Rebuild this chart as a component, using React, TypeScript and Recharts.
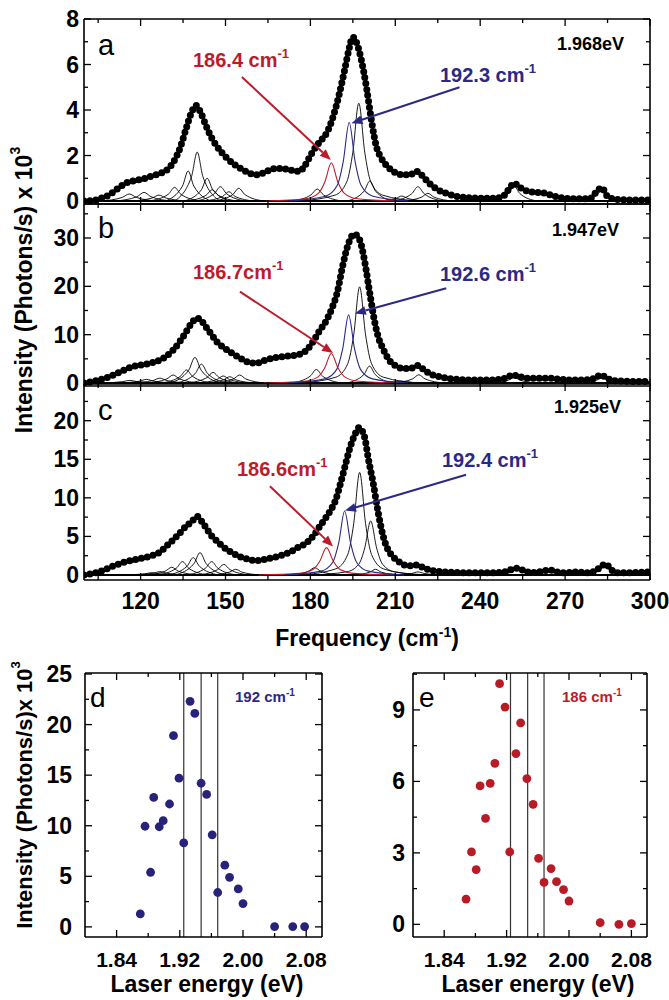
import React from "react";
import { LineChart, Line, XAxis, YAxis, ReferenceLine, ScatterChart, Scatter } from "recharts";

type Pt = [number, number];

const FONT = "'Liberation Sans', Arial, Helvetica, sans-serif";
const RED = "#bd1b2b";
const BLUE = "#2b2985";

// frequency axis (top three panels)
const freqTicks = [105, 120, 135, 150, 165, 180, 195, 210, 225, 240, 255, 270, 285, 300];
const freqLabels = [120, 150, 180, 210, 240, 270, 300];

const aTicks = [0, 1, 2, 3, 4, 5, 6, 7, 8];
const aLabels = [0, 2, 4, 6, 8];
const bTicks = [0, 5, 10, 15, 20, 25, 30, 35];
const bLabels = [0, 10, 20, 30];
const cTicks = [0, 2.5, 5, 7.5, 10, 12.5, 15, 17.5, 20, 22.5];
const cLabels = [0, 5, 10, 15, 20];

// measured spectra [frequency, intensity]
const specA: Pt[] = [
  [100, 0], [103, 0.02], [106, 0.12], [109, 0.28], [112, 0.55], [115, 0.8], [118, 0.9], [121, 0.98],
  [124, 1.1], [127, 1.22], [130, 1.45], [132, 1.8], [134, 2.35], [136, 3.15], [138, 3.9], [139.5, 4.2],
  [141, 3.95], [143, 3.35], [145, 2.8], [147, 2.4], [150, 1.95], [153, 1.62], [156, 1.38], [159, 1.2],
  [161, 1.15], [164, 1.27], [167, 1.42], [170, 1.43], [173, 1.36], [176, 1.3], [178, 1.55], [180, 2.0],
  [182, 2.4], [184, 2.7], [186, 3.05], [188, 3.7], [190, 4.6], [192, 5.7], [193.5, 6.6], [195, 7.2],
  [196.5, 6.9], [198, 6.2], [199.8, 5.0], [201.5, 3.6], [203.3, 2.4], [205, 1.9], [207, 1.55], [210, 1.25],
  [213, 1.15], [215, 1.15], [217.5, 1.3], [220, 1.05], [222, 0.78], [225, 0.5], [228, 0.34], [232, 0.2],
  [236, 0.15], [240, 0.12], [245, 0.12], [248, 0.2], [250, 0.5], [252, 0.78], [254, 0.6], [257, 0.42],
  [260, 0.38], [263, 0.34], [266, 0.22], [270, 0.12], [275, 0.1], [279, 0.12], [281, 0.4], [283, 0.58],
  [285, 0.2], [288, 0.08], [292, 0.05], [296, 0.05], [300, 0.05],
];
const specB: Pt[] = [
  [100, 0], [103, 0.3], [106, 0.75], [109, 1.3], [112, 2.1], [115, 2.9], [118, 3.5], [121, 3.8],
  [124, 4.2], [127, 4.8], [129, 5.5], [131.5, 6.8], [134, 8.7], [136, 10.5], [138, 12.4], [140, 13.4],
  [141.5, 12.9], [143, 11.7], [145.6, 9.6], [147, 8.5], [149, 7.5], [152, 6.3], [155, 5.2], [158, 4.3],
  [161, 4.1], [163, 4.5], [165, 4.9], [168, 5.3], [171, 5.5], [174, 5.7], [177, 6.1], [179, 7.0],
  [181, 8.6], [183, 10.6], [185.5, 12.8], [187.5, 15.3], [189.5, 18.8], [191.5, 24.5], [193.3, 28.6],
  [195.5, 30.8], [197.4, 29.6], [199.2, 25.1], [200.9, 18.9], [202.7, 12.7], [204, 9.5], [205.5, 7.3],
  [208, 4.6], [210, 3.6], [213, 3.0], [216, 3.1], [218, 3.6], [220, 2.8], [222, 2.0], [225, 1.4],
  [228, 1.0], [232, 0.75], [236, 0.6], [240, 0.6], [245, 0.65], [249, 1.0], [251.5, 1.65], [254, 1.3],
  [257, 1.0], [261, 1.0], [264.5, 1.0], [268, 0.8], [272, 0.6], [276, 0.6], [280, 0.9], [282.7, 1.65],
  [285, 0.9], [288, 0.45], [292, 0.35], [296, 0.3], [300, 0.3],
];
const specC: Pt[] = [
  [100, 0], [103, 0.2], [106, 0.5], [108, 0.8], [110.5, 1.2], [113, 1.5], [115, 1.75], [118, 2.0],
  [120, 2.15], [122.5, 2.35], [125, 2.65], [127, 3.0], [129, 3.7], [131.5, 4.55], [134, 5.5], [136, 6.3],
  [138, 6.9], [140, 7.6], [141.5, 7.0], [143, 6.2], [145, 5.1], [147, 4.4], [149, 3.7], [152, 2.95],
  [155, 2.4], [158, 2.05], [161, 1.86], [163, 1.95], [166, 2.2], [169, 2.45], [171, 2.7], [173, 3.0],
  [175, 3.45], [177, 3.8], [179.8, 4.55], [181.5, 5.3], [183.3, 6.3], [185, 7.2], [187, 8.3], [189, 9.8],
  [190.5, 11.7], [192.1, 13.9], [193.9, 16.4], [195.7, 18.2], [197.2, 19.1], [199.2, 17.8], [200.4, 15.2],
  [202.1, 12.1], [203.9, 8.2], [205.6, 5.2], [207, 3.6], [208.6, 2.6], [211, 1.8], [213, 1.3], [215, 1.2],
  [217.4, 1.3], [220, 0.95], [222, 0.65], [226, 0.45], [230, 0.35], [234, 0.3], [240, 0.3], [245, 0.3],
  [249, 0.45], [251, 0.7], [253.3, 0.87], [255.5, 0.55], [258, 0.3], [261, 0.4], [264.5, 0.65], [267, 0.4],
  [270, 0.3], [274, 0.4], [278, 0.3], [281, 0.6], [283, 1.2], [284.5, 1.4], [286, 0.8], [288, 0.3],
  [292, 0.3], [296, 0.35], [300, 0.4],
];

// fitted components
const aBlack: Pt[][] = [
  [[106, 0], [113.5, 0.16], [116, 0.31], [118.5, 0.16], [126, 0]],
  [[111, 0], [118.7, 0.19], [121.2, 0.38], [123.7, 0.19], [131, 0]],
  [[116.5, 0], [124, 0.13], [126.5, 0.26], [129, 0.13], [136.5, 0]],
  [[123, 0], [129.8, 0.3], [132, 0.6], [134.2, 0.3], [141, 0]],
  [[128.8, 0], [134.8, 0.66], [136.8, 1.32], [138.8, 0.66], [144.8, 0]],
  [[132, 0], [138, 1.08], [140, 2.15], [142, 1.08], [148, 0]],
  [[135.5, 0], [141.5, 0.5], [143.5, 1.0], [145.5, 0.5], [151.5, 0]],
  [[136.5, 0], [143.1, 0.25], [145.3, 0.5], [147.5, 0.25], [154.1, 0]],
  [[139.4, 0], [146, 0.32], [148.2, 0.63], [150.4, 0.32], [157, 0]],
  [[142.4, 0], [149, 0.2], [151.2, 0.41], [153.4, 0.2], [160, 0]],
  [[145.9, 0], [152.5, 0.28], [154.7, 0.56], [156.9, 0.28], [163.5, 0]],
  [[173.6, 0], [180.2, 0.27], [182.4, 0.53], [184.6, 0.27], [191.2, 0]],
  [[176.1, 0], [188.7, 0.26], [192.9, 0.86], [195, 2.15], [197.1, 4.3], [199.2, 2.15], [201.3, 0.86], [205.5, 0.26], [218.1, 0]],
  [[193, 0], [199, 0.44], [201, 0.88], [203, 0.44], [209, 0]],
  [[203.5, 0], [210.1, 0.11], [212.3, 0.22], [214.5, 0.11], [221, 0]],
  [[209.2, 0], [215.8, 0.32], [218, 0.63], [220.2, 0.32], [226.8, 0]],
  [[212.7, 0], [219.3, 0.17], [221.5, 0.34], [223.7, 0.17], [230.3, 0]],
  [[244, 0], [250, 0.33], [252, 0.65], [254, 0.33], [260, 0]],
  [[275.8, 0], [281.2, 0.25], [283, 0.5], [284.8, 0.25], [290.2, 0]],
];
const aRed: Pt[] = [[164.4, 0], [178.2, 0.1], [182.8, 0.34], [185.1, 0.84], [187.4, 1.68], [189.7, 0.84], [192, 0.34], [196.6, 0.1], [210.4, 0]];
const aBlue: Pt[] = [[172.7, 0], [185.3, 0.21], [189.5, 0.69], [191.6, 1.73], [193.7, 3.45], [195.8, 1.73], [197.9, 0.69], [202.1, 0.21], [214.7, 0]];

const bBlack: Pt[][] = [
  [[106.2, 0], [113.7, 0.28], [116.2, 0.55], [118.7, 0.28], [126.2, 0]],
  [[112.1, 0], [119.6, 0.38], [122.1, 0.75], [124.6, 0.38], [132.1, 0]],
  [[116.8, 0], [124.3, 0.5], [126.8, 1.0], [129.3, 0.5], [136.8, 0]],
  [[122.3, 0], [129.2, 0.83], [131.5, 1.65], [133.8, 0.83], [140.7, 0]],
  [[127.4, 0], [134, 1.35], [136.2, 2.7], [138.4, 1.35], [145, 0]],
  [[130.4, 0], [137, 2.65], [139.2, 5.3], [141.4, 2.65], [148, 0]],
  [[132.7, 0], [139.3, 1.95], [141.5, 3.9], [143.7, 1.95], [150.3, 0]],
  [[136.8, 0], [143.4, 1.1], [145.6, 2.2], [147.8, 1.1], [154.4, 0]],
  [[140.4, 0], [147, 0.73], [149.2, 1.45], [151.4, 0.73], [158, 0]],
  [[142.7, 0], [149.3, 0.65], [151.5, 1.3], [153.7, 0.65], [160.3, 0]],
  [[146.2, 0], [152.8, 0.83], [155, 1.65], [157.2, 0.83], [163.8, 0]],
  [[173.3, 0], [179.9, 1.4], [182.1, 2.8], [184.3, 1.4], [190.9, 0]],
  [[176.4, 0], [189, 1.2], [193.2, 4], [195.3, 9.95], [197.4, 19.9], [199.5, 9.95], [201.6, 4], [205.8, 1.2], [218.4, 0]],
  [[192.9, 0], [198.9, 1.75], [200.9, 3.5], [202.9, 1.75], [208.9, 0]],
  [[203.2, 0], [209.8, 0.2], [212, 0.4], [214.2, 0.2], [220.8, 0]],
  [[209.5, 0], [216.1, 0.85], [218.3, 1.7], [220.5, 0.85], [227.1, 0]],
  [[244, 0], [250, 0.6], [252, 1.2], [254, 0.6], [260, 0]],
  [[275.8, 0], [281.2, 0.6], [283, 1.2], [284.8, 0.6], [290.2, 0]],
];
const bRed: Pt[] = [[163.4, 0], [177.8, 0.37], [182.6, 1.22], [185, 3.05], [187.4, 6.1], [189.8, 3.05], [192.2, 1.22], [197, 0.37], [211.4, 0]];
const bBlue: Pt[] = [[172.5, 0], [185.1, 0.85], [189.3, 2.82], [191.4, 7.05], [193.5, 14.1], [195.6, 7.05], [197.7, 2.82], [201.9, 0.85], [214.5, 0]];

const cBlack: Pt[][] = [
  [[114, 0], [121.5, 0.15], [124, 0.3], [126.5, 0.15], [134, 0]],
  [[116.8, 0], [124.3, 0.22], [126.8, 0.43], [129.3, 0.22], [136.8, 0]],
  [[121.8, 0], [128.7, 0.5], [131, 1.0], [133.3, 0.5], [140.2, 0]],
  [[126, 0], [132.6, 0.87], [134.8, 1.73], [137, 0.87], [143.6, 0]],
  [[129.8, 0], [136.4, 1.13], [138.6, 2.25], [140.8, 1.13], [147.4, 0]],
  [[132.2, 0], [138.8, 1.45], [141, 2.9], [143.2, 1.45], [149.8, 0]],
  [[136.3, 0], [142.9, 0.87], [145.1, 1.73], [147.3, 0.87], [153.9, 0]],
  [[140.6, 0], [147.2, 0.69], [149.4, 1.38], [151.6, 0.69], [158.2, 0]],
  [[144.8, 0], [151.4, 0.37], [153.6, 0.74], [155.8, 0.37], [162.4, 0]],
  [[172.7, 0], [179.3, 0.48], [181.5, 0.95], [183.7, 0.48], [190.3, 0]],
  [[176.4, 0], [189, 0.8], [193.2, 2.66], [195.3, 6.65], [197.4, 13.3], [199.5, 6.65], [201.6, 2.66], [205.8, 0.8], [218.4, 0]],
  [[180.3, 0], [192.9, 0.42], [197.1, 1.4], [199.2, 3.5], [201.3, 7], [203.4, 3.5], [205.5, 1.4], [209.7, 0.42], [222.3, 0]],
  [[195, 0], [201, 0.37], [203, 0.74], [205, 0.37], [211, 0]],
  [[209.2, 0], [215.8, 0.2], [218, 0.4], [220.2, 0.2], [226.8, 0]],
  [[245, 0], [251, 0.35], [253, 0.7], [255, 0.35], [261, 0]],
  [[276.8, 0], [282.2, 0.6], [284, 1.2], [285.8, 0.6], [291.2, 0]],
];
const cRed: Pt[] = [[161.7, 0], [176.1, 0.21], [180.9, 0.71], [183.3, 1.78], [185.7, 3.55], [188.1, 1.78], [190.5, 0.71], [195.3, 0.21], [209.7, 0]];
const cBlue: Pt[] = [[171.1, 0], [183.7, 0.5], [187.9, 1.66], [190, 4.15], [192.1, 8.3], [194.2, 4.15], [196.3, 1.66], [200.5, 0.5], [213.1, 0]];

// annotation arrows [from, to] in data units
const aArrows: Pt[][] = [[[155.8, 5.45], [187.2, 1.8]], [[232.7, 5.0], [194.5, 3.42]]];
const bArrows: Pt[][] = [[[155.1, 18.9], [188, 6.2]], [[228, 19.6], [195.7, 14.4]]];
const cArrows: Pt[][] = [[[165.7, 11.5], [188, 3.7]], [[235, 13], [192.2, 8.35]]];

// laser energy panels
const energyTicks = [1.84, 1.88, 1.92, 1.96, 2.0, 2.04, 2.08];
const energyLabels = [1.84, 1.92, 2.0, 2.08];
const laserLines = [1.925, 1.947, 1.968];
const energyD = [1.870, 1.876, 1.883, 1.887, 1.894, 1.899, 1.907, 1.912, 1.919, 1.925, 1.933, 1.939, 1.947, 1.954, 1.961, 1.968, 1.977, 1.983, 1.994, 2.0, 2.04, 2.063, 2.078];
const intensD = [1.28, 9.95, 5.4, 12.8, 9.9, 10.5, 12.15, 18.9, 14.7, 8.3, 22.3, 21.1, 14.2, 13.1, 9.1, 3.4, 6.1, 4.9, 3.75, 2.3, 0.03, 0.03, 0.03];
const energyE = [1.868, 1.875, 1.881, 1.886, 1.893, 1.899, 1.905, 1.911, 1.918, 1.924, 1.932, 1.938, 1.946, 1.954, 1.961, 1.968, 1.977, 1.984, 1.993, 2.0, 2.04, 2.064, 2.08];
const intensE = [1.06, 3.04, 2.3, 5.81, 4.45, 5.92, 6.76, 10.1, 9.12, 3.04, 7.17, 8.46, 6.12, 5.04, 2.77, 1.76, 2.34, 1.79, 1.46, 0.98, 0.07, 0.0, 0.03];
const dTicks = [0, 2.5, 5, 7.5, 10, 12.5, 15, 17.5, 20, 22.5, 25];
const dLabels = [0, 5, 10, 15, 20, 25];
const eTicks = [0, 1.5, 3, 4.5, 6, 7.5, 9, 10.5];
const eLabels = [0, 3, 6, 9];

const toXY = (pts: Pt[]) => pts.map(([x, y]) => ({ x, y }));
const isIn = (list: number[], v: number) => list.some((l) => Math.abs(l - v) < 1e-6);

function Tick(props: any) {
  const { x, y, payload, side, labels, show, fontSize = 22, fmt, gap = 6, len = 7, minor = 4 } = props;
  const v = payload.value;
  const major = isIn(labels, v);
  const L = major ? len : minor;
  let line = null;
  if (side === "bottom") line = <line x1={x} x2={x} y1={y} y2={y - L} />;
  if (side === "top") line = <line x1={x} x2={x} y1={y} y2={y + L} />;
  if (side === "left") line = <line x1={x} x2={x + L} y1={y} y2={y} />;
  if (side === "right") line = <line x1={x} x2={x - L} y1={y} y2={y} />;
  const txt = fmt ? fmt(v) : String(v);
  return (
    <g>
      <g stroke="#000" strokeWidth={1.3}>{line}</g>
      {show && major && side === "bottom" && (
        <text x={x} y={y + gap} textAnchor="middle" dominantBaseline="hanging" fontFamily={FONT} fontWeight="bold" fontSize={fontSize} fill="#000">
          {txt}
        </text>
      )}
      {show && major && side === "left" && (
        <text x={x - gap} y={y} textAnchor="end" dominantBaseline="central" fontFamily={FONT} fontWeight="bold" fontSize={fontSize} fill="#000">
          {txt}
        </text>
      )}
    </g>
  );
}

function Arrow(props: any) {
  const { x1, y1, x2, y2, color } = props;
  const ang = Math.atan2(y2 - y1, x2 - x1);
  const L = 11;
  const W = 4.5;
  const bx = x2 - L * Math.cos(ang);
  const by = y2 - L * Math.sin(ang);
  const p1 = `${bx + W * Math.sin(ang)},${by - W * Math.cos(ang)}`;
  const p2 = `${bx - W * Math.sin(ang)},${by + W * Math.cos(ang)}`;
  return (
    <g>
      <line x1={x1} y1={y1} x2={bx} y2={by} stroke={color} strokeWidth={2} />
      <polygon points={`${x2},${y2} ${p1} ${p2}`} fill={color} />
    </g>
  );
}

const axisLine = { stroke: "#000", strokeWidth: 1.6 };

function SpecPanel(props: any) {
  const { top, height, mTop, mBottom, yDomain, yTicks, yLabels, spec, black, red, blue, showX, arrows } = props;
  // axes are 1px thick, so margins are one less than the frame offsets
  return (
    <div style={{ position: "absolute", left: 0, top, width: 669, height }}>
      <LineChart width={669} height={height} margin={{ top: mTop - 1, right: 18, bottom: mBottom - 1, left: 83 }}>
        <XAxis xAxisId="x" type="number" dataKey="x" domain={[100, 300]} ticks={freqTicks} interval={0} height={1}
          tickSize={0} tickMargin={0} tickLine={false} axisLine={axisLine} allowDataOverflow
          tick={<Tick side="bottom" labels={freqLabels} show={showX} fontSize={23} gap={12} />} />
        <XAxis xAxisId="t" orientation="top" type="number" dataKey="x" domain={[100, 300]} ticks={freqTicks} interval={0} height={1}
          tickSize={0} tickMargin={0} tickLine={false} axisLine={axisLine} allowDataOverflow
          tick={<Tick side="top" labels={freqLabels} show={false} />} />
        <YAxis yAxisId="y" type="number" domain={yDomain} ticks={yTicks} interval={0} width={1}
          tickSize={0} tickMargin={0} tickLine={false} axisLine={axisLine} allowDataOverflow
          tick={<Tick side="left" labels={yLabels} show fontSize={23} gap={5} />} />
        <YAxis yAxisId="r" orientation="right" type="number" domain={yDomain} ticks={yTicks} interval={0} width={1}
          tickSize={0} tickMargin={0} tickLine={false} axisLine={axisLine} allowDataOverflow
          tick={<Tick side="right" labels={yLabels} show={false} />} />
        <ReferenceLine xAxisId="x" yAxisId="y" y={0} stroke="#000" strokeWidth={2} />
        {black.map((c: Pt[], i: number) => (
          <Line key={"k" + i} xAxisId="x" yAxisId="y" data={toXY(c)} dataKey="y" type="monotone" stroke="#000"
            strokeWidth={0.9} dot={false} activeDot={false} isAnimationActive={false} />
        ))}
        <Line xAxisId="x" yAxisId="y" data={toXY(red)} dataKey="y" type="monotone" stroke={RED} strokeWidth={1.1}
          dot={false} activeDot={false} isAnimationActive={false} />
        <Line xAxisId="x" yAxisId="y" data={toXY(blue)} dataKey="y" type="monotone" stroke={BLUE} strokeWidth={1.1}
          dot={false} activeDot={false} isAnimationActive={false} />
        <Line xAxisId="x" yAxisId="y" data={toXY(spec)} dataKey="y" type="monotone" stroke="#000" strokeWidth={1}
          dot={false} activeDot={false} isAnimationActive={false} />
        <Line xAxisId="x" yAxisId="y" data={toXY(spec)} dataKey="y" type="monotone" stroke="#000" strokeWidth={7}
          strokeDasharray="0 6" strokeLinecap="round" dot={false} activeDot={false} isAnimationActive={false} />
        {arrows.map((a: Pt[], i: number) => (
          <ReferenceLine key={"a" + i} xAxisId="x" yAxisId="y" ifOverflow="visible"
            segment={[{ x: a[0][0], y: a[0][1] }, { x: a[1][0], y: a[1][1] }]}
            shape={(p: any) => <Arrow {...p} color={i === 0 ? RED : BLUE} />} />
        ))}
      </LineChart>
    </div>
  );
}

function EnergyPanel(props: any) {
  const { left, width, mLeft, mRight, yDomain, yTicks, yLabels, xs, ys, color, yGap } = props;
  const pts = xs.map((x: number, i: number) => ({ x, y: ys[i] }));
  return (
    <div style={{ position: "absolute", left, top: 640, width, height: 360 }}>
      <ScatterChart width={width} height={360} margin={{ top: 32, right: mRight - 1, bottom: 62, left: mLeft - 1 }}>
        <XAxis xAxisId="x" type="number" dataKey="x" domain={[1.8, 2.1]} ticks={energyTicks} interval={0} height={1}
          tickSize={0} tickMargin={0} tickLine={false} axisLine={axisLine} allowDataOverflow
          tick={<Tick side="bottom" labels={energyLabels} show fontSize={21} gap={15} fmt={(v: number) => v.toFixed(2)} />} />
        <XAxis xAxisId="t" orientation="top" type="number" dataKey="x" domain={[1.8, 2.1]} ticks={energyTicks} interval={0} height={1}
          tickSize={0} tickMargin={0} tickLine={false} axisLine={axisLine} allowDataOverflow
          tick={<Tick side="top" labels={energyLabels} show={false} />} />
        <YAxis yAxisId="y" type="number" dataKey="y" domain={yDomain} ticks={yTicks} interval={0} width={1}
          tickSize={0} tickMargin={0} tickLine={false} axisLine={axisLine} allowDataOverflow
          tick={<Tick side="left" labels={yLabels} show fontSize={23} gap={yGap} />} />
        <YAxis yAxisId="r" orientation="right" type="number" domain={yDomain} ticks={yTicks} interval={0} width={1}
          tickSize={0} tickMargin={0} tickLine={false} axisLine={axisLine} allowDataOverflow
          tick={<Tick side="right" labels={yLabels} show={false} />} />
        {laserLines.map((e) => (
          <ReferenceLine key={e} xAxisId="x" yAxisId="y" x={e} stroke="#333" strokeWidth={1.2} />
        ))}
        <Scatter xAxisId="x" yAxisId="y" data={pts} isAnimationActive={false}
          shape={(p: any) => <circle cx={p.cx} cy={p.cy} r={4.4} fill={color} />} />
      </ScatterChart>
    </div>
  );
}

function Sup({ children, dy = -9, size = 13 }: any) {
  return (
    <tspan dy={dy} fontSize={size}>
      {children}
    </tspan>
  );
}

export default function App() {
  const bold = { fontFamily: FONT, fontWeight: "bold" as const };
  return (
    <div style={{ position: "absolute", left: 0, top: 0, width: 669, height: 1000, background: "#fff" }}>
      <SpecPanel top={0} height={218} mTop={19} mBottom={14} yDomain={[-0.13, 8]} yTicks={aTicks} yLabels={aLabels}
        spec={specA} black={aBlack} red={aRed} blue={aBlue} showX={false} arrows={aArrows} />
      <SpecPanel top={200} height={198} mTop={4} mBottom={12} yDomain={[-0.62, 37.03]} yTicks={bTicks} yLabels={bLabels}
        spec={specB} black={bBlack} red={bRed} blue={bBlue} showX={false} arrows={bArrows} />
      <SpecPanel top={380} height={240} mTop={4} mBottom={40} yDomain={[-0.65, 24.76]} yTicks={cTicks} yLabels={cLabels}
        spec={specC} black={cBlack} red={cRed} blue={cBlue} showX arrows={cArrows} />
      <EnergyPanel left={0} width={340} mLeft={85} mRight={18} yDomain={[-1, 25.1]} yTicks={dTicks} yLabels={dLabels}
        xs={energyD} ys={intensD} color="#28237a" yGap={13} />
      <EnergyPanel left={330} width={339} mLeft={83} mRight={22} yDomain={[-0.53, 10.55]} yTicks={eTicks} yLabels={eLabels}
        xs={energyE} ys={intensE} color="#b81b25" yGap={8} />

      <svg width={669} height={1000} style={{ position: "absolute", left: 0, top: 0, pointerEvents: "none" }}>
        <text x={24} y={290} transform="rotate(-90 24 290)" textAnchor="middle" dominantBaseline="central" fontSize={23} {...bold}>
          Intensity (Photons/s) x 10<Sup dy={-9} size={14}>3</Sup>
        </text>
        <text x={367} y={646} textAnchor="middle" fontSize={23} {...bold}>
          Frequency (cm<Sup dy={-9} size={14}>-1</Sup><tspan dy={9}>)</tspan>
        </text>

        <text x={98} y={55} fontSize={29} fontFamily={FONT}>a</text>
        <text x={98} y={238} fontSize={29} fontFamily={FONT}>b</text>
        <text x={98} y={420} fontSize={29} fontFamily={FONT}>c</text>

        <text x={557} y={50} fontSize={18} {...bold}>1.968eV</text>
        <text x={552} y={236} fontSize={18} {...bold}>1.947eV</text>
        <text x={554} y={413} fontSize={18} {...bold}>1.925eV</text>

        <text x={193} y={67} fontSize={20} fill={RED} {...bold}>186.4 cm<Sup>-1</Sup></text>
        <text x={440} y={82} fontSize={20} fill={BLUE} {...bold}>192.3 cm<Sup>-1</Sup></text>
        <text x={193} y={279} fontSize={20} fill={RED} {...bold}>186.7cm<Sup>-1</Sup></text>
        <text x={440} y={281} fontSize={20} fill={BLUE} {...bold}>192.6 cm<Sup>-1</Sup></text>
        <text x={237} y={476} fontSize={20} fill={RED} {...bold}>186.6cm<Sup>-1</Sup></text>
        <text x={442} y={467} fontSize={20} fill={BLUE} {...bold}>192.4 cm<Sup>-1</Sup></text>

        <text x={24} y={795} transform="rotate(-90 24 795)" textAnchor="middle" dominantBaseline="central" fontSize={22} {...bold}>
          Intensity (Photons/s)x 10<Sup dy={-9} size={13}>3</Sup>
        </text>
        <text x={90} y={707} fontSize={28} fontFamily={FONT}>d</text>
        <text x={419} y={707} fontSize={28} fontFamily={FONT}>e</text>
        <text x={235} y={702} fontSize={15} fill={BLUE} {...bold}>192 cm<Sup dy={-6} size={10}>-1</Sup></text>
        <text x={562} y={702} fontSize={15} fill={RED} {...bold}>186 cm<Sup dy={-6} size={10}>-1</Sup></text>
        <text x={207} y={992} textAnchor="middle" fontSize={23} {...bold}>Laser energy (eV)</text>
        <text x={538} y={992} textAnchor="middle" fontSize={23} {...bold}>Laser energy (eV)</text>
      </svg>
    </div>
  );
}
